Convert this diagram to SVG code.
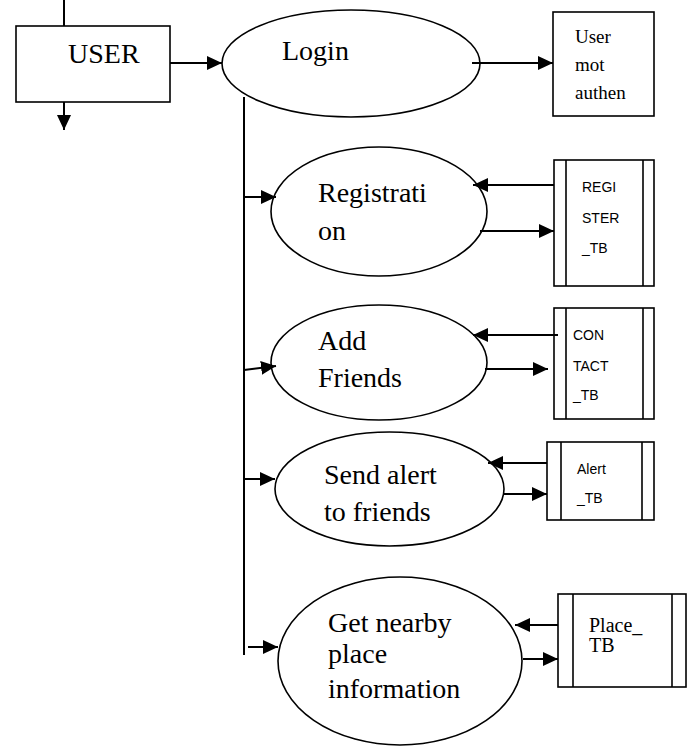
<svg xmlns="http://www.w3.org/2000/svg" width="690" height="746" viewBox="0 0 690 746">
<style>
.shape{fill:#fff;stroke:#000;stroke-width:1.6}
.line{fill:none;stroke:#000;stroke-width:2}
.bar{stroke:#000;stroke-width:1.6}
.serif{font-family:"Liberation Serif","Times New Roman",serif;font-size:28px;fill:#000}
.small{font-family:"Liberation Serif","Times New Roman",serif;font-size:19px;fill:#000}
.sans{font-family:"Liberation Sans",Arial,sans-serif;font-size:14px;fill:#000}
</style>
<defs>
<marker id="ah" markerUnits="userSpaceOnUse" markerWidth="15" markerHeight="14" refX="15" refY="7" orient="auto">
<path d="M0,0 L15,7 L0,14 z" fill="#000"/>
</marker>
</defs>
<rect width="690" height="746" fill="#fff"/>
<g id="user">
<rect class="shape" x="16" y="26" width="154" height="76"/>
<text class="serif" x="68" y="63">USER</text>
</g>
<g id="login">
<ellipse class="shape" cx="351" cy="63.5" rx="129" ry="53.5"/>
<text class="serif" x="282" y="60">Login</text>
</g>
<g id="auth">
<rect class="shape" x="553" y="12" width="101" height="104"/>
<text class="small" x="575" y="43">User</text>
<text class="small" x="575" y="71">mot</text>
<text class="small" x="575" y="99">authen</text>
</g>
<g id="registration">
<ellipse class="shape" cx="379" cy="211.5" rx="108" ry="64.5"/>
<text class="serif" x="318" y="202">Registrati</text>
<text class="serif" x="318" y="240">on</text>
</g>
<g id="register_tb">
<rect class="shape" x="554" y="160" width="100" height="126"/>
<line class="bar" x1="566" y1="160" x2="566" y2="286"/>
<line class="bar" x1="643" y1="160" x2="643" y2="286"/>
<text class="sans" x="582" y="192">REGI</text>
<text class="sans" x="582" y="223">STER</text>
<text class="sans" x="582" y="253">_TB</text>
</g>
<g id="addfriends">
<ellipse class="shape" cx="379" cy="362.5" rx="108" ry="57.5"/>
<text class="serif" x="318" y="350">Add</text>
<text class="serif" x="318" y="387">Friends</text>
</g>
<g id="contact_tb">
<rect class="shape" x="554" y="308" width="100" height="111"/>
<line class="bar" x1="566" y1="308" x2="566" y2="419"/>
<line class="bar" x1="643" y1="308" x2="643" y2="419"/>
<text class="sans" x="573" y="340">CON</text>
<text class="sans" x="573" y="371">TACT</text>
<text class="sans" x="573" y="400">_TB</text>
</g>
<g id="sendalert">
<ellipse class="shape" cx="389.5" cy="489" rx="114.5" ry="57"/>
<text class="serif" x="324" y="484">Send alert</text>
<text class="serif" x="324" y="521">to friends</text>
</g>
<g id="alert_tb">
<rect class="shape" x="547" y="442" width="107" height="78"/>
<line class="bar" x1="561" y1="442" x2="561" y2="520"/>
<line class="bar" x1="642" y1="442" x2="642" y2="520"/>
<text class="sans" x="577" y="474">Alert</text>
<text class="sans" x="577" y="503">_TB</text>
</g>
<g id="nearby">
<ellipse class="shape" cx="400" cy="661" rx="122" ry="84"/>
<text class="serif" x="328" y="632">Get nearby</text>
<text class="serif" x="328" y="663">place</text>
<text class="serif" x="328" y="698">information</text>
</g>
<g id="place_tb">
<rect class="shape" x="558" y="594" width="128" height="93"/>
<line class="bar" x1="573" y1="594" x2="573" y2="687"/>
<line class="bar" x1="672" y1="594" x2="672" y2="687"/>
<text class="small" x="589" y="632" style="font-size:20px">Place_</text>
<text class="small" x="589" y="652" style="font-size:20px">TB</text>
</g>
<g id="connectors">
<line class="line" x1="64" y1="0" x2="64" y2="26"/>
<line class="line" x1="64" y1="102" x2="64" y2="130" marker-end="url(#ah)"/>
<line class="line" x1="170" y1="63" x2="222" y2="63" marker-end="url(#ah)"/>
<line class="line" x1="472" y1="63" x2="553" y2="63" marker-end="url(#ah)"/>
<line class="line" x1="244" y1="97" x2="244" y2="655"/>
<line class="line" x1="244" y1="197" x2="276" y2="197" marker-end="url(#ah)"/>
<line class="line" x1="554" y1="185" x2="473" y2="185" marker-end="url(#ah)"/>
<line class="line" x1="480" y1="231" x2="554" y2="231" marker-end="url(#ah)"/>
<line class="line" x1="244" y1="370" x2="276" y2="366" marker-end="url(#ah)"/>
<line class="line" x1="558" y1="335" x2="473" y2="335" marker-end="url(#ah)"/>
<line class="line" x1="485" y1="369" x2="548" y2="369" marker-end="url(#ah)"/>
<line class="line" x1="244" y1="479" x2="275" y2="479" marker-end="url(#ah)"/>
<line class="line" x1="547" y1="463" x2="488" y2="463" marker-end="url(#ah)"/>
<line class="line" x1="503" y1="494" x2="547" y2="494" marker-end="url(#ah)"/>
<line class="line" x1="248" y1="647" x2="278" y2="647" marker-end="url(#ah)"/>
<line class="line" x1="558" y1="625" x2="515" y2="625" marker-end="url(#ah)"/>
<line class="line" x1="523" y1="659" x2="558" y2="659" marker-end="url(#ah)"/>
</g>
</svg>
